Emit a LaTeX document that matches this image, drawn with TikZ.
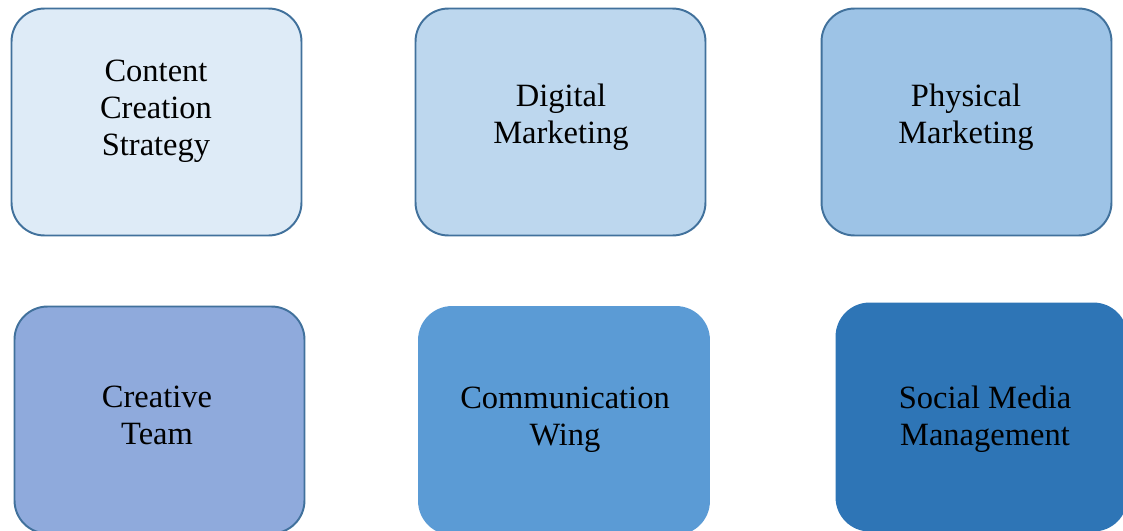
\documentclass[tikz,border=0pt]{standalone}
\usepackage{fontspec}
\setmainfont{Liberation Serif}
\usetikzlibrary{positioning}
\definecolor{rim}{RGB}{65,113,156}
\definecolor{paleblue}{RGB}{222,235,247}
\definecolor{lightblue}{RGB}{189,215,238}
\definecolor{skyblue}{RGB}{157,195,230}
\definecolor{lavblue}{RGB}{143,170,220}
\definecolor{midblue}{RGB}{91,155,213}
\definecolor{deepblue}{RGB}{46,117,182}

\begin{document}
\begin{tikzpicture}[x=0.02cm,y=-0.02cm,
    card/.style={draw=rim,line width=1.1pt,rounded corners=0.66cm,minimum width=5.8cm,minimum height=4.54cm,inner sep=0pt},
    caption/.style={align=center,font=\fontsize{18.5}{21}\selectfont}]
  \useasboundingbox (0,0) rectangle (1123,531);
  \clip (0,0) rectangle (1123,531);
  % top row
  \node[card,fill=paleblue] (content) at (156.5,122) {};
  \node[card,fill=lightblue] (digital) at (560.5,122) {};
  \node[card,fill=skyblue] (physical) at (966.5,122) {};
  % bottom row
  \node[card,fill=lavblue] (creative) at (159.5,420) {};
  \node[card,draw=midblue,fill=midblue] (comm) at (564,420.5) {};
  \node[card,draw=deepblue,fill=deepblue] (social) at (981.5,417) {};
  % labels
  \node[caption] (contentT) at (156,111.5) {Content\\Creation\\Strategy};
  \node[caption] (digitalT) at (561,117.5) {Digital\\Marketing};
  \node[caption] (physicalT) at (966,117.5) {Physical\\Marketing};
  \node[caption] (creativeT) at (157,415.5) {Creative\\Team};
  \node[caption] (commT) at (565,420) {Communication\\Wing};
  \node[caption] (socialT) at (985,419.5) {Social Media\\Management};
\end{tikzpicture}
\end{document}
